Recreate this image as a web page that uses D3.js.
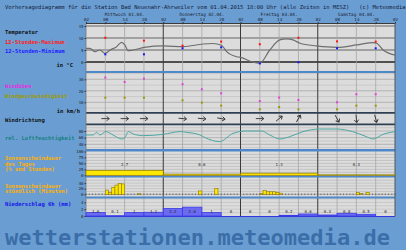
<!DOCTYPE html>
<html>
<head>
<meta charset="utf-8">
<script src="https://cdn.jsdelivr.net/npm/d3@7/dist/d3.min.js"></script>
<style>
body { margin: 0; background: #6a9ed3; }
svg { display: block; }
text { font-family: "DejaVu Sans Mono", monospace; }
</style>
</head>
<body>
<script>
// ---- data (hours counted from Wed 01.04. 02:00) ----
const dayLabels = ["Mittwoch 01.04.", "Donnerstag 02.04.", "Freitag 03.04.", "Samstag 04.04."];
const hourLabels = ["02", "08", "14", "20"];

const tempHours  = [0, 1.2, 2.8, 4.3, 5.9, 7.5, 9.5, 11.1, 12.1, 13.1, 14.7, 18.1, 24, 30.2, 36.4, 39.4, 42.1, 43.7, 46.8, 47.8, 51.5, 54, 57.1, 60.2, 62.3, 64.3, 66.5, 71.6, 77.9, 84.1, 89.2, 90.3, 92.3, 96];
const tempValues = [5.7, 5.7, 4.3, 5.0, 3.6, 5.0, 6.4, 8.2, 7.0, 4.7, 5.0, 6.1, 6.7, 6.4, 7.5, 7.7, 7.0, 4.3, 2.2, 2.0, 0.1, -0.5, 5.0, 9.2, 9.6, 9.2, 7.8, 6.7, 6.1, 7.1, 8.1, 7.8, 5.0, 2.9];

const extremeHours = [6, 18, 30, 42, 54, 66, 78, 90];
const tempMax = [10.1, 8.9, 6.8, 8.5, 7.4, 10.1, 8.6, 8.5];
const tempMin = [3.2, 3.2, 5.7, 6.1, -0.6, -0.1, 5.7, 5.7];

const windHours = [6, 12, 18, 30, 36, 42, 54, 60, 66, 78, 84, 90];
const gusts     = [31.5, 27.7, 30.6, 25.7, 21.3, 17.8, 11.1, 14.1, 12.0, 10.0, 17.0, 17.0];
const windSpeed = [14, 14, 14, 11.7, 9.7, 7.1, 3.9, 5.9, 3.9, 3.9, 7.1, 7.1];
const windDir   = [270, 270, 270, 275, 275, 280, 270, 230, 210, 330, 355, 345];

const rhHours  = [0, 2.2, 3.3, 4.3, 6.2, 8.4, 11.1, 12.1, 13.1, 14.7, 17.8, 24, 29.2, 31.3, 35.4, 37, 41.5, 45.7, 49.8, 54.5, 57.1, 60.2, 63.3, 67.4, 72.6, 77.8, 82.9, 87.1, 89.2, 92.3, 96];
const rhValues = [68, 68, 76, 68, 78, 68, 56, 60, 78, 71, 66, 70, 78, 76, 68, 60, 48, 73, 80, 80, 68, 56, 63, 78, 86, 86, 78, 63, 56, 70, 78];

const sunDayHours = [2.7, 0.6, 1.3, 0.3];
const sunDayPct   = [21, 5, 9, 2];

const sunHourStart = [6, 7, 8, 9, 10, 11, 16, 35, 40, 54, 55, 56, 57, 58, 59, 60, 84, 85, 87];
const sunMinutes   = [15, 7, 25, 33, 39, 37, 2, 12, 21, 3, 14, 9, 9, 9, 6, 4, 6, 3, 7];

const precipValues = [1.0, 0.1, 1, 1.1, 2.2, 2.6, 1, 0, 0, 0, 0.2, 0.6, 0.3, 0.8, 0.5, 0];
const precipLabels = ["1.0", "0.1", "1", "1.1", "2.2", "2.6", "1", "0", "0", "0", "0.2", "0.6", "0.3", "0.8", "0.5", "0"];

// ---- layout ----
const W = 406, H = 250;
const plotTop = 23.5, plotBottom = 216.5;
var x = d3.scaleLinear().domain([0, 96]).range([86, 395]);

var yT  = d3.scaleLinear().domain([0, 15]).range([62, 26]);
var yW  = d3.scaleLinear().domain([0, 30]).range([113.8, 79.3]);
var yRH = d3.scaleLinear().domain([40, 80]).range([144.3, 131]);
var ySD = d3.scaleLinear().domain([0, 100]).range([175.3, 151.5]);
var ySH = d3.scaleLinear().domain([0, 60]).range([194.3, 177.5]);
var yP  = d3.scaleLinear().domain([0, 2]).range([216, 209.2]);

var svg = d3.select("body").append("svg")
    .attr("width", W)
    .attr("height", H);

svg.append("rect").attr("width", W).attr("height", H).attr("fill", "#6a9ed3");

// title
svg.append("text")
    .attr("x", 5).attr("y", 8.5)
    .attr("font-size", 5.5).attr("fill", "#14203a")
    .attr("xml:space", "preserve")
    .text("Vorhersagediagramm für die Station Bad Neuenahr-Ahrweiler vom 01.04.2015 18:00 Uhr (alle Zeiten in MESZ)   (c) Meteomedia");

// plot background
svg.append("rect")
    .attr("x", x(0)).attr("y", plotTop)
    .attr("width", x(96) - x(0)).attr("height", plotBottom - plotTop)
    .attr("fill", "#dcdcdc");

// horizontal gridlines
function hgrid(scale, values, color, width) {
    svg.append("g").selectAll("line").data(values).enter().append("line")
        .attr("x1", x(0)).attr("x2", x(96))
        .attr("y1", d => scale(d)).attr("y2", d => scale(d))
        .attr("stroke", color).attr("stroke-width", width);
}
hgrid(yW, [5, 15, 25, 35], "#c2c2c2", 0.7);
hgrid(yW, [10, 20, 30], "#a8a8a8", 0.8);
hgrid(yRH, [30, 50, 70, 90], "#c2c2c2", 0.7);
hgrid(yRH, [40, 60, 80], "#a8a8a8", 0.8);
hgrid(ySD, [12.5, 25, 37.5, 50, 62.5, 75, 87.5], "#b8b8b8", 0.7);
hgrid(ySH, [10, 20, 30, 40, 50], "#bcbcbc", 0.7);
hgrid(yP, [1, 2, 3, 4, 5], "#c2c2c2", 0.7);
hgrid(yT, [15, 10, 5], "#666", 1);
hgrid(yT, [0], "#505050", 2);

// vertical gridlines
var vticks = d3.range(6, 96, 6);
svg.append("g").selectAll("line").data(vticks).enter().append("line")
    .attr("x1", d => x(d)).attr("x2", d => x(d))
    .attr("y1", plotTop).attr("y2", plotBottom)
    .attr("stroke", d => d % 24 == 0 ? "#3a3a3a" : "#a6a6a6")
    .attr("stroke-width", d => d % 24 == 0 ? 1 : 0.8);

// panel separators
var seps = [
    {y: 72, c: "#4f88c8", w: 2},
    {y: 112.8, c: "#2e4052", w: 1.8},
    {y: 124.3, c: "#2e4052", w: 1.8},
    {y: 150.2, c: "#4f88c8", w: 2.4},
    {y: 176.5, c: "#4f88c8", w: 2},
    {y: 197.5, c: "#4f88c8", w: 2},
    {y: 216.5, c: "#3434e0", w: 1}
];
svg.append("g").selectAll("line").data(seps).enter().append("line")
    .attr("x1", x(0)).attr("x2", x(96))
    .attr("y1", d => d.y).attr("y2", d => d.y)
    .attr("stroke", d => d.c).attr("stroke-width", d => d.w);

svg.append("line").attr("x1", x(0)).attr("x2", x(96)).attr("y1", plotTop).attr("y2", plotTop)
    .attr("stroke", "#3a3a3a").attr("stroke-width", 1);
svg.append("line").attr("x1", x(96)).attr("x2", x(96)).attr("y1", plotTop).attr("y2", plotBottom)
    .attr("stroke", "#555").attr("stroke-width", 1);
svg.append("line").attr("x1", x(0)).attr("x2", x(0)).attr("y1", plotTop).attr("y2", plotBottom)
    .attr("stroke", "#777").attr("stroke-width", 0.8);

// top hour axis
var topAxis = d3.axisTop(x).tickValues(d3.range(0, 97, 6)).tickSize(1.5).tickPadding(0.6)
    .tickFormat((d, i) => hourLabels[i % 4]);
svg.append("g").attr("transform", `translate(0,${plotTop})`).call(topAxis)
    .call(g => g.select(".domain").remove())
    .call(g => g.selectAll("line").attr("stroke", "#333"))
    .call(g => g.selectAll("text").attr("font-size", 4.2).attr("fill", "#1a1a2a")
        .attr("font-family", "DejaVu Sans Mono"));

// day labels
svg.append("g").selectAll("text").data(dayLabels).enter().append("text")
    .attr("x", (d, i) => x(12 + 24 * i)).attr("y", 16)
    .attr("text-anchor", "middle").attr("font-size", 4.4).attr("fill", "#1a1a2a")
    .text(d => d);

// y axis labels
function yLabels(scale, values, fmt) {
    var ax = d3.axisLeft(scale).tickValues(values).tickSize(1.5).tickPadding(1).tickFormat(fmt || (d => d));
    svg.append("g").attr("transform", `translate(${x(0)},0)`).call(ax)
        .call(g => g.select(".domain").remove())
        .call(g => g.selectAll("line").attr("stroke", "#333"))
        .call(g => g.selectAll("text").attr("font-size", 4).attr("fill", "#222")
            .attr("font-family", "DejaVu Sans Mono"));
}
yLabels(yT, [15, 10, 5, 0]);
yLabels(yW, [30, 20, 10]);
yLabels(yRH, [80, 60, 40]);
yLabels(ySD, [100, 75, 50, 25, 0]);
yLabels(ySH, [40, 20, 0]);
yLabels(yP, [4, 2, 0]);

// left labels
var leftLabels = [
    {t: "Temperatur", y: 34, c: "#101010", x: 5},
    {t: "12-Stunden-Maximum", y: 43.5, c: "#ff2020", x: 5},
    {t: "12-Stunden-Minimum", y: 53, c: "#2020ff", x: 5},
    {t: "in °C", y: 67, c: "#101010", x: 73, end: true},
    {t: "Windböen", y: 88, c: "#e030e0", x: 5},
    {t: "Windgeschwindigkeit", y: 98, c: "#9a9a00", x: 5},
    {t: "in km/h", y: 112.5, c: "#101010", x: 80, end: true},
    {t: "Windrichtung", y: 122, c: "#101010", x: 5},
    {t: "rel. Luftfeuchtigkeit", y: 140, c: "#17807f", x: 5},
    {t: "Sonnenscheindauer", y: 160, c: "#ffb000", x: 5},
    {t: "des Tages", y: 165.5, c: "#ffb000", x: 5},
    {t: "(% und Stunden)", y: 171, c: "#ffb000", x: 5},
    {t: "Sonnenscheindauer", y: 187.5, c: "#ffb000", x: 5},
    {t: "stündlich (Minuten)", y: 192.5, c: "#ffb000", x: 5},
    {t: "Niederschlag 6h (mm)", y: 206, c: "#1414e6", x: 5}
];
svg.append("g").selectAll("text").data(leftLabels).enter().append("text")
    .attr("x", d => d.x).attr("y", d => d.y)
    .attr("text-anchor", d => d.end ? "end" : "start")
    .attr("font-size", 5.5).attr("font-weight", "bold")
    .attr("fill", d => d.c).text(d => d.t);

// temperature curve
var tempData = tempHours.map((h, i) => ({h: h, v: tempValues[i]}));
svg.append("path").datum(tempData)
    .attr("fill", "none").attr("stroke", "#6e6e6e").attr("stroke-width", 1.2)
    .attr("d", d3.line().curve(d3.curveMonotoneX).x(d => x(d.h)).y(d => yT(d.v)));

// 12h max / min
svg.append("g").selectAll("rect").data(extremeHours).enter().append("rect")
    .attr("x", d => x(d) - 1).attr("y", (d, i) => yT(tempMax[i]) - 1)
    .attr("width", 2).attr("height", 2).attr("fill", "#ff1010");
svg.append("g").selectAll("rect").data(extremeHours).enter().append("rect")
    .attr("x", d => x(d) - 1).attr("y", (d, i) => yT(tempMin[i]) - 1)
    .attr("width", 2).attr("height", 2).attr("fill", "#1010ff");

// wind
svg.append("g").selectAll("rect").data(windHours).enter().append("rect")
    .attr("x", d => x(d) - 1).attr("y", (d, i) => yW(gusts[i]) - 1)
    .attr("width", 2).attr("height", 2).attr("fill", "#e040e0");
svg.append("g").selectAll("rect").data(windHours).enter().append("rect")
    .attr("x", d => x(d) - 1).attr("y", (d, i) => yW(windSpeed[i]) - 1)
    .attr("width", 2).attr("height", 2).attr("fill", "#9a9a00");

// wind direction arrows (pointing where the wind blows to)
svg.append("g").selectAll("path").data(windHours).enter().append("path")
    .attr("d", "M-4,0 L3.8,0 M1.2,-2.2 L4,0 L1.2,2.2")
    .attr("transform", (d, i) => `translate(${x(d)},118.6) rotate(${windDir[i] + 90})`)
    .attr("fill", "none").attr("stroke", "#333").attr("stroke-width", 0.9);

// humidity
var rhData = rhHours.map((h, i) => ({h: h, v: rhValues[i]}));
svg.append("path").datum(rhData)
    .attr("fill", "none").attr("stroke", "#4aa8a2").attr("stroke-width", 1)
    .attr("d", d3.line().curve(d3.curveMonotoneX).x(d => x(d.h)).y(d => yRH(d.v)));

// daily sunshine
svg.append("g").selectAll("rect").data(sunDayPct).enter().append("rect")
    .attr("x", (d, i) => x(24 * i)).attr("width", x(24) - x(0))
    .attr("y", d => ySD(d)).attr("height", d => ySD(0) - ySD(d))
    .attr("fill", "#ffe800").attr("stroke", "#8a7600").attr("stroke-width", 0.7);
svg.append("g").selectAll("text").data(sunDayHours).enter().append("text")
    .attr("x", (d, i) => x(12 + 24 * i)).attr("y", 166)
    .attr("text-anchor", "middle").attr("font-size", 4).attr("fill", "#222")
    .text(d => d3.format(".1f")(d));

// hourly sunshine
svg.append("g").selectAll("line").data(d3.range(0, 97)).enter().append("line")
    .attr("x1", d => x(d)).attr("x2", d => x(d))
    .attr("y1", ySH(0) - 0.8).attr("y2", ySH(0) + 0.8)
    .attr("stroke", "#444").attr("stroke-width", 0.7);
svg.append("line").attr("x1", x(0)).attr("x2", x(96))
    .attr("y1", ySH(0)).attr("y2", ySH(0))
    .attr("stroke", "#777").attr("stroke-width", 0.5);
svg.append("g").selectAll("rect").data(sunHourStart).enter().append("rect")
    .attr("x", d => x(d)).attr("width", x(1) - x(0))
    .attr("y", (d, i) => ySH(sunMinutes[i])).attr("height", (d, i) => ySH(0) - ySH(sunMinutes[i]))
    .attr("fill", "#ffe800").attr("stroke", "#8a7600").attr("stroke-width", 0.6);

// precipitation per 6h
svg.append("g").selectAll("rect").data(precipValues).enter().append("rect")
    .attr("x", (d, i) => x(6 * i)).attr("width", x(6) - x(0))
    .attr("y", d => yP(d)).attr("height", d => yP(0) - yP(d))
    .attr("fill", "#6b6bf2").attr("stroke", "#3a3ae6").attr("stroke-width", 0.8);
svg.append("g").selectAll("text").data(precipLabels).enter().append("text")
    .attr("x", (d, i) => x(6 * i + 3)).attr("y", 213)
    .attr("text-anchor", "middle").attr("font-size", 4).attr("fill", "#222")
    .text(d => d);

// watermark
svg.append("text")
    .attr("x", 5).attr("y", 245)
    .attr("font-family", "DejaVu Sans").attr("font-weight", "bold")
    .attr("font-size", 21).attr("fill", "#3b6ea8")
    .attr("textLength", 385).attr("lengthAdjust", "spacingAndGlyphs")
    .text("wetterstationen.meteomedia.de");
</script>
</body>
</html>
